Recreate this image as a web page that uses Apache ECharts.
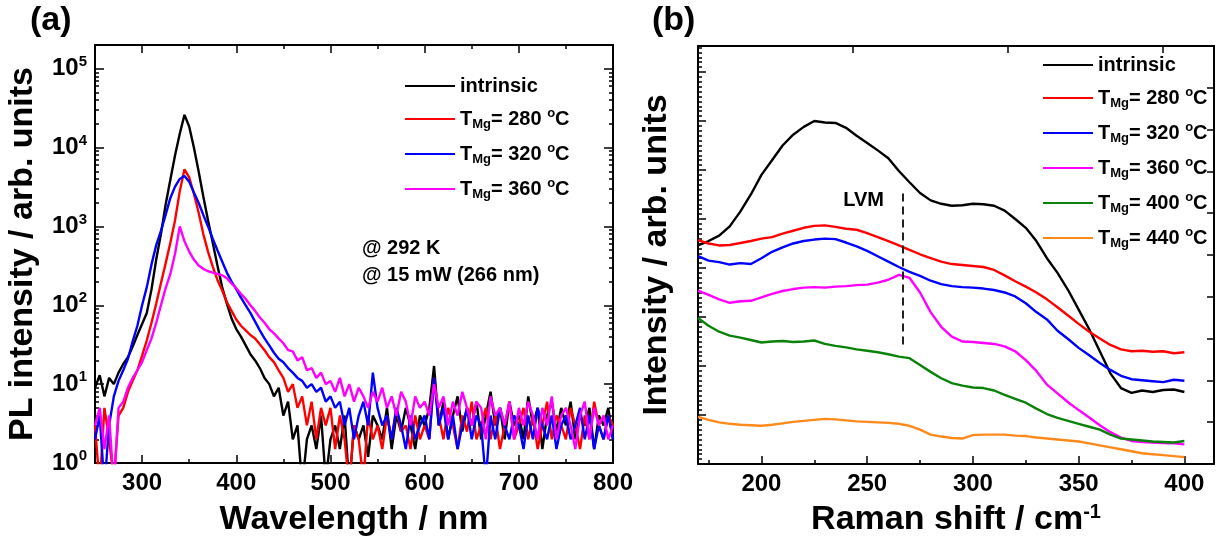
<!DOCTYPE html>
<html>
<head>
<meta charset="utf-8">
<script src="https://cdn.jsdelivr.net/npm/echarts@6/dist/echarts.min.js"></script>
<style>
  html, body { margin: 0; padding: 0; background: #fff; }
  #chart { width: 1219px; height: 542px; }
</style>
</head>
<body>
<div id="chart"></div>
<script>
// (a) PL spectra, sampled every 5 nm from 250 nm
const plStart = 250;
const plStep = 5;
const plIntrinsic = [
  9, 13, 7, 12, 10, 14, 18, 22, 30, 42,
  58, 80, 160, 380, 800, 1900, 3900, 8000, 15000, 26000,
  18500, 10000, 5000, 2400, 1200, 620, 320, 170, 105, 68,
  50, 40, 31, 24, 20, 16, 12, 10, 7, 9,
  4, 6, 2, 3, 0.5, 2, 3, 1.5, 4, 0.6,
  2, 3, 1.5, 4, 0.5, 3, 2, 3, 1.2, 4,
  3, 2, 5, 1.5, 4, 2.5, 5, 3, 1.5, 4,
  3, 5, 17, 3, 6, 2, 4, 7, 2.5, 5,
  3, 6, 2, 4, 8, 3, 5, 2, 6, 3,
  4, 2, 7, 3, 5, 1.5, 4, 6, 2.5, 5,
  3, 6, 2, 4, 3, 5, 1.5, 4, 3, 5,
  2
];
const pl280 = [
  3, 0.5, 5, 2, 0.6, 4, 5, 8, 11, 15,
  23, 36, 60, 105, 190, 340, 620, 1200, 2800, 5300,
  4200, 2600, 1500, 800, 480, 310, 210, 155, 110, 85,
  66, 55, 48, 42, 38, 32, 27, 22, 19, 15,
  12, 8, 10, 5, 7, 3, 6, 2, 5, 3,
  5, 1.5, 4, 2, 0.5, 3, 2, 0.6, 4, 2,
  3, 1.5, 4, 2, 5, 2.5, 3, 1.5, 4, 2,
  3, 2, 12, 4, 2, 5, 3, 1.5, 4, 2.5,
  6, 2, 3, 5, 2, 4, 1.5, 3, 6, 2,
  3, 5, 2, 4, 1.5, 3, 6, 2, 4, 3,
  2, 5, 3, 1.5, 4, 2, 6, 3, 2, 4,
  3
];
const pl320 = [
  2, 4, 0.5, 3, 7, 11, 15, 21, 35, 55,
  100, 170, 330, 580, 880, 1400, 2300, 3200, 4000, 4350,
  3700, 2700, 2000, 1400, 1000, 700, 500, 360, 260, 200,
  160, 125, 100, 80, 62, 48, 38, 31, 25, 21,
  19, 16, 14, 12, 11, 9, 10, 8, 9, 6,
  7, 5, 6, 3, 5, 2, 4, 6, 3, 14,
  5, 3, 4, 2, 5, 3, 1.5, 4, 2, 3,
  4, 2, 12, 3, 5, 2, 4, 1.5, 3, 5,
  2, 4, 3, 0.6, 4, 2, 5, 3, 2, 4,
  3, 1.5, 4, 2, 5, 3, 2, 4, 1.5, 3,
  4, 2, 3, 5, 2, 4, 1.5, 3, 2, 4,
  2
];
const pl360 = [
  3, 5, 1.5, 4, 0.5, 5, 6, 9, 12, 15,
  19, 27, 38, 60, 100, 165, 250, 450, 1000, 650,
  480, 380, 320, 290, 270, 260, 250, 240, 220, 190,
  165, 140, 120, 100, 85, 70, 60, 50, 44, 38,
  33, 27, 26, 20, 22, 15, 16, 12, 14, 10,
  11, 8, 12, 7, 10, 6, 9, 7, 5, 8,
  6, 9, 5, 7, 4, 8, 6, 3, 7, 5,
  6, 4, 10, 5, 7, 3, 6, 4, 8, 5,
  3, 6, 5, 2, 7, 4, 5, 3, 6, 2,
  5, 3, 6, 4, 2, 5, 3, 7, 2, 4,
  5, 3, 1.5, 4, 6, 2, 5, 3, 4, 2,
  3
];
const plXTicks = [300, 400, 500, 600, 700, 800];
const plXMinor = [250, 350, 450, 550, 650, 750];
const plYTicks = [1, 10, 100, 1000, 10000, 100000];

// (b) Raman spectra, sampled every 5 cm-1 from 170 cm-1 (arb. units)
const ramStart = 170;
const ramStep = 5;
const ramIntrinsic = [
  4.46, 4.55, 4.66, 4.85, 5.15, 5.5, 5.9, 6.2, 6.5, 6.72,
  6.88, 7.0, 6.97, 6.96, 6.86, 6.7, 6.55, 6.4, 6.24, 5.98,
  5.75, 5.53, 5.38, 5.31, 5.27, 5.28, 5.31, 5.3, 5.27, 5.17,
  5.0, 4.82, 4.55, 4.2, 3.9, 3.55, 3.15, 2.75, 2.3, 1.85,
  1.55, 1.45, 1.5, 1.47, 1.51, 1.52, 1.47
];
const ram280 = [
  4.57, 4.5, 4.46, 4.47, 4.51, 4.55, 4.6, 4.63, 4.7, 4.76,
  4.82, 4.86, 4.87, 4.84, 4.8, 4.78, 4.71, 4.63, 4.55, 4.46,
  4.37, 4.28, 4.2, 4.13, 4.08, 4.06, 4.04, 4.02, 3.96, 3.85,
  3.73, 3.62, 3.5, 3.36, 3.2, 3.03, 2.86, 2.7, 2.56, 2.43,
  2.34, 2.3, 2.31, 2.29, 2.3, 2.26, 2.28
];
const ram320 = [
  4.24, 4.15, 4.12, 4.07, 4.1, 4.08, 4.2, 4.33, 4.42, 4.5,
  4.55, 4.58, 4.6, 4.59, 4.52, 4.44, 4.35, 4.24, 4.13, 4.02,
  3.92, 3.84, 3.74, 3.67, 3.63, 3.61, 3.6, 3.58, 3.55, 3.5,
  3.42, 3.28, 3.1, 2.95, 2.72, 2.55, 2.37, 2.22, 2.06, 1.92,
  1.8, 1.73, 1.71, 1.69, 1.67, 1.72, 1.7
];
const ram360 = [
  3.54, 3.45, 3.36, 3.29, 3.32, 3.33, 3.4, 3.47, 3.53, 3.57,
  3.6, 3.61, 3.6, 3.62, 3.63, 3.65, 3.66, 3.7, 3.76, 3.86,
  3.8, 3.5, 3.1, 2.8, 2.6, 2.5, 2.49, 2.47, 2.45, 2.4,
  2.3, 2.12, 1.9, 1.62, 1.44, 1.26, 1.1, 0.95, 0.79, 0.65,
  0.54, 0.47, 0.45, 0.44, 0.43, 0.42, 0.4
];
const ram400 = [
  2.98, 2.82, 2.7, 2.62, 2.58, 2.53, 2.48, 2.5, 2.51, 2.49,
  2.5, 2.52, 2.45, 2.41, 2.38, 2.34, 2.31, 2.28, 2.24, 2.19,
  2.16, 2.02, 1.88, 1.75, 1.65, 1.6, 1.56, 1.55, 1.5, 1.41,
  1.33, 1.25, 1.13, 1.02, 0.94, 0.88, 0.82, 0.76, 0.7, 0.6,
  0.52, 0.5, 0.48, 0.46, 0.45, 0.44, 0.47
];
const ram440 = [
  0.96, 0.9, 0.85, 0.82, 0.8, 0.79, 0.78, 0.8, 0.83, 0.86,
  0.88, 0.9, 0.92, 0.91, 0.89, 0.87, 0.86, 0.85, 0.84, 0.82,
  0.78, 0.7, 0.6, 0.56, 0.53, 0.52, 0.59, 0.6, 0.6, 0.6,
  0.58, 0.57, 0.54, 0.52, 0.5, 0.48, 0.46, 0.42, 0.38, 0.34,
  0.3, 0.26, 0.22, 0.2, 0.18, 0.16, 0.14
];
const ramXTicks = [200, 250, 300, 350, 400];
const ramXMinor = [175, 225, 275, 325, 375];
const lvmShift = 267;
const lvmRange = [2.44, 5.52];

const FONT = '"Liberation Sans", Arial, sans-serif';

// log minor ticks 2..9 per decade
const plYMinor = [];
for (let e = 0; e < 5; e++) {
  for (let m = 2; m <= 9; m++) plYMinor.push(m * Math.pow(10, e));
}
const ramYMinor = [];
for (let i = 1; i <= 85; i++) {
  if (i % 10 !== 0) ramYMinor.push(i / 10);
}

const pairs = (start, step, arr) => arr.map((v, i) => [start + i * step, v]);

const richT = {
  t: { fontSize: 20, fontWeight: 'bold', fontFamily: FONT, lineHeight: 24, color: '#000' },
  sub: { fontSize: 13, fontWeight: 'bold', fontFamily: FONT, padding: [11, 0, 0, 0], color: '#000' },
  sup: { fontSize: 13, fontWeight: 'bold', fontFamily: FONT, padding: [0, 0, 11, 0], color: '#000' }
};
const legendFmt = name => name === 'intrinsic'
  ? '{t|intrinsic}'
  : '{t|T}{sub|Mg}{t|= ' + name + ' }{sup|o}{t|C}';

const tickBase = (len) => ({ show: true, inside: true, length: len, lineStyle: { color: '#000', width: 1.5 } });
const lineBase = { show: true, onZero: false, lineStyle: { color: '#000', width: 2 } };
const labelStyle = { fontSize: 24, fontWeight: 'bold', fontFamily: FONT, color: '#000' };
const nameStyle = { fontSize: 34, fontWeight: 'bold', fontFamily: FONT, color: '#000' };

const xAxes = [
  // (a) bottom
  { gridIndex: 0, type: 'value', position: 'bottom', min: 250, max: 800,
    axisLine: lineBase, axisTick: { ...tickBase(8), customValues: plXTicks },
    axisLabel: { ...labelStyle, margin: 8, customValues: plXTicks },
    splitLine: { show: false },
    name: 'Wavelength / nm', nameLocation: 'middle', nameGap: 40, nameTextStyle: nameStyle },
  { gridIndex: 0, type: 'value', position: 'bottom', min: 250, max: 800,
    axisLine: { show: false }, axisTick: { ...tickBase(4), customValues: plXMinor },
    axisLabel: { show: false }, splitLine: { show: false } },
  // (a) top
  { gridIndex: 0, type: 'value', position: 'top', min: 250, max: 800,
    axisLine: lineBase, axisTick: { ...tickBase(8), customValues: plXTicks },
    axisLabel: { show: false }, splitLine: { show: false } },
  { gridIndex: 0, type: 'value', position: 'top', min: 250, max: 800,
    axisLine: { show: false }, axisTick: { ...tickBase(4), customValues: plXMinor },
    axisLabel: { show: false }, splitLine: { show: false } },
  // (b) bottom
  { gridIndex: 1, type: 'value', position: 'bottom', min: 170, max: 414,
    axisLine: lineBase, axisTick: { ...tickBase(8), customValues: ramXTicks },
    axisLabel: { ...labelStyle, margin: 8, customValues: ramXTicks },
    splitLine: { show: false },
    name: '{n|Raman shift / cm}{s|-1}', nameLocation: 'middle', nameGap: 38,
    nameTextStyle: { ...nameStyle, rich: {
      n: { ...nameStyle },
      s: { fontSize: 20, fontWeight: 'bold', fontFamily: FONT, color: '#000', padding: [0, 0, 16, 0] }
    } } },
  { gridIndex: 1, type: 'value', position: 'bottom', min: 170, max: 414,
    axisLine: { show: false }, axisTick: { ...tickBase(4), customValues: ramXMinor },
    axisLabel: { show: false }, splitLine: { show: false } },
  // (b) top
  { gridIndex: 1, type: 'value', position: 'top', min: 0, max: 3.33, interval: 1,
    axisLine: lineBase, axisTick: tickBase(7),
    axisLabel: { show: false }, splitLine: { show: false } }
];

const yAxes = [
  // (a) left
  { gridIndex: 0, type: 'log', position: 'left', min: 1, max: 200000,
    axisLine: lineBase, axisTick: { ...tickBase(9), customValues: plYTicks },
    axisLabel: { customValues: plYTicks, margin: 8,
      formatter: v => '{b|10}{s|' + Math.round(Math.log10(v)) + '}',
      rich: {
        b: { ...labelStyle, lineHeight: 28 },
        s: { fontSize: 15, fontWeight: 'bold', fontFamily: FONT, color: '#000', padding: [0, 0, 14, 0] }
      } },
    splitLine: { show: false },
    name: 'PL intensity / arb. units', nameLocation: 'middle', nameGap: 55, nameTextStyle: nameStyle },
  { gridIndex: 0, type: 'log', position: 'left', min: 1, max: 200000,
    axisLine: { show: false }, axisTick: { ...tickBase(4), customValues: plYMinor },
    axisLabel: { show: false }, splitLine: { show: false } },
  // (a) right
  { gridIndex: 0, type: 'log', position: 'right', min: 1, max: 200000,
    axisLine: lineBase, axisTick: { ...tickBase(9), customValues: plYTicks },
    axisLabel: { show: false }, splitLine: { show: false } },
  { gridIndex: 0, type: 'log', position: 'right', min: 1, max: 200000,
    axisLine: { show: false }, axisTick: { ...tickBase(4), customValues: plYMinor },
    axisLabel: { show: false }, splitLine: { show: false } },
  // (b) left
  { gridIndex: 1, type: 'value', position: 'left', min: 0, max: 8.53, interval: 1,
    axisLine: lineBase, axisTick: tickBase(8),
    axisLabel: { show: false }, splitLine: { show: false },
    name: 'Intensity / arb. units', nameLocation: 'middle', nameGap: 24, nameTextStyle: nameStyle },
  { gridIndex: 1, type: 'value', position: 'left', min: 0, max: 8.53,
    axisLine: { show: false }, axisTick: { ...tickBase(4), customValues: ramYMinor },
    axisLabel: { show: false }, splitLine: { show: false } },
  // (b) right
  { gridIndex: 1, type: 'value', position: 'right', min: 0, max: 10, interval: 1,
    axisLine: lineBase, axisTick: tickBase(7),
    axisLabel: { show: false }, splitLine: { show: false } }
];

const mkLine = (name, color, xi, yi, start, step, arr, extra) => ({
  name, type: 'line', xAxisIndex: xi, yAxisIndex: yi,
  data: pairs(start, step, arr),
  symbol: 'none', showSymbol: false, clip: true,
  lineStyle: { color, width: 2.4 }, itemStyle: { color },
  ...(extra || {})
});

const C = { k: '#000000', r: '#ff0000', b: '#0000ff', m: '#ff00ff', g: '#0a820a', o: '#ff8a1c' };

const series = [
  mkLine('intrinsic', C.k, 0, 0, plStart, plStep, plIntrinsic),
  mkLine('280', C.r, 0, 0, plStart, plStep, pl280),
  mkLine('320', C.b, 0, 0, plStart, plStep, pl320),
  mkLine('360', C.m, 0, 0, plStart, plStep, pl360),
  mkLine('intrinsic', C.k, 4, 4, ramStart, ramStep, ramIntrinsic, {
    markLine: {
      silent: true, symbol: 'none', animation: false,
      label: { show: false },
      lineStyle: { color: '#222', width: 2, type: [8, 5] },
      data: [[{ coord: [lvmShift, lvmRange[1]] }, { coord: [lvmShift, lvmRange[0]] }]]
    }
  }),
  mkLine('280', C.r, 4, 4, ramStart, ramStep, ram280),
  mkLine('320', C.b, 4, 4, ramStart, ramStep, ram320),
  mkLine('360', C.m, 4, 4, ramStart, ramStep, ram360),
  mkLine('400', C.g, 4, 4, ramStart, ramStep, ram400),
  mkLine('440', C.o, 4, 4, ramStart, ramStep, ram440)
];

const legendBase = {
  orient: 'vertical', itemWidth: 50, itemHeight: 14, itemGap: 11,
  icon: 'path://M0,6 L50,6 L50,8 L0,8 Z',
  formatter: legendFmt, textStyle: { rich: richT },
  selectedMode: false
};

const chart = echarts.init(document.getElementById('chart'));
chart.setOption({
  animation: false,
  backgroundColor: '#fff',
  grid: [
    { left: 95, top: 45, width: 518, height: 420 },
    { left: 698, top: 46, width: 516, height: 418 }
  ],
  xAxis: xAxes,
  yAxis: yAxes,
  legend: [
    { ...legendBase, data: ['intrinsic', '280', '320', '360'], left: 400, top: 71 },
    { ...legendBase, data: ['intrinsic', '280', '320', '360', '400', '440'], left: 1038, top: 50 }
  ],
  graphic: [
    { type: 'text', left: 30, top: 4, style: { text: '(a)', font: 'bold 34px ' + FONT, fill: '#000' } },
    { type: 'text', left: 652, top: 4, style: { text: '(b)', font: 'bold 34px ' + FONT, fill: '#000' } },
    { type: 'text', left: 362, top: 238, style: { text: '@ 292 K', font: 'bold 20px ' + FONT, fill: '#000' } },
    { type: 'text', left: 362, top: 265, style: { text: '@ 15 mW (266 nm)', font: 'bold 20px ' + FONT, fill: '#000' } },
    { type: 'text', x: 884, y: 200, style: { text: 'LVM', align: 'right', verticalAlign: 'middle', font: 'bold 20px ' + FONT, fill: '#000' } }
  ],
  series
});
</script>
</body>
</html>
